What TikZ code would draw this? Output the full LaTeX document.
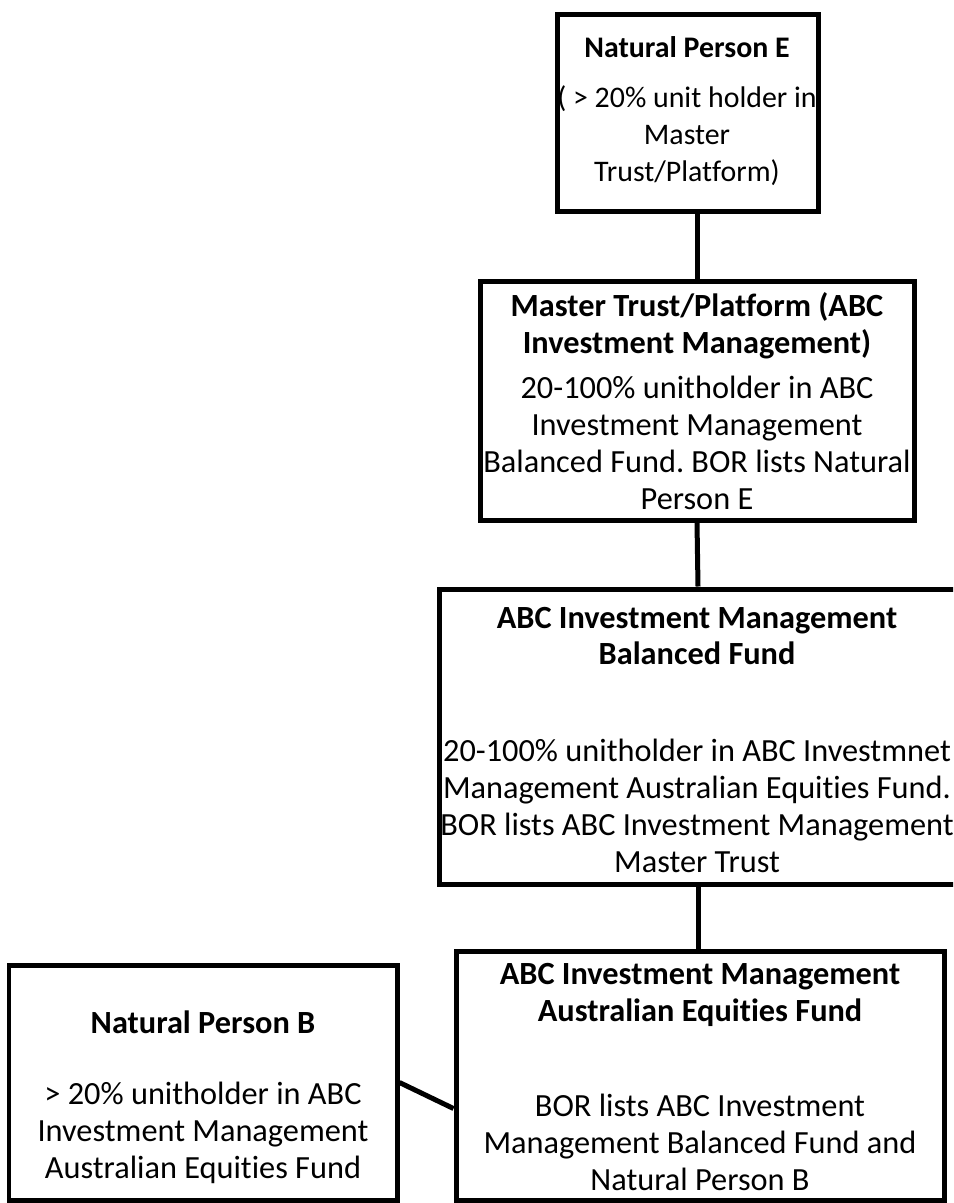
\documentclass[tikz,border=0pt]{standalone}
\usepackage{fontspec}
\setmainfont{Carlito}[Ligatures=NoCommon]
\usetikzlibrary{fit,calc}
\tikzset{
  box/.style={draw, line width=0.1cm, inner sep=0pt},
  lbl/.style={align=center, inner sep=0pt, font=\fontsize{18.4}{21}\selectfont},
  lblsmall/.style={lbl, font=\fontsize{17}{21}\selectfont},
  link/.style={line width=0.1cm}
}
\frenchspacing
\begin{document}
\begin{tikzpicture}[x=0.02cm, y=-0.02cm]
		%%%%% START %%%%%
		\useasboundingbox (0,0) rectangle (953,1203);
		\clip (0,0) rectangle (953,1203);
		
		% boxes
		\node[box, fit={(557,15) (818,211)}] (npe) {};
		\node[box, fit={(480,281) (914,520)}] (mt) {};
		\node[box, fit={(439,589) (957,884)}] (bal) {};
		\node[box, fit={(456,951) (944,1200)}] (aef) {};
		\node[box, fit={(9,965) (397,1200)}] (npb) {};
		
		% texts
		\node[lblsmall] (npe-t) at (687,47) {\textbf{Natural Person E}};
		\node[lblsmall] (npe-b) at (687,136) {( > 20\% unit holder in\\Master\\Trust/Platform)};
		
		\node[lbl] (mt-t) at (697,326) {\textbf{Master Trust/Platform (ABC}\\\textbf{Investment Management)}};
		\node[lbl] (mt-b) at (697,443) {20-100\% unitholder in ABC\\Investment Management\\Balanced Fund. BOR lists Natural\\Person E};
		
		\node[lbl] (bal-t) at (697,636) {\textbf{ABC Investment Management}\\\textbf{Balanced Fund}};
		\node[lbl] (bal-b) at (697,806) {20-100\% unitholder in ABC Investmnet\\Management Australian Equities Fund.\\BOR lists ABC Investment Management\\Master Trust};
		
		\node[lbl] (aef-t) at (700,995) {\textbf{ABC Investment Management}\\\textbf{Australian Equities Fund}};
		\node[lbl] (aef-b) at (700,1142) {BOR lists ABC Investment\\Management Balanced Fund and\\Natural Person B};
		
		\node[lbl] (npb-t) at (203,1022) {\textbf{Natural Person B}};
		\node[lbl] (npb-b) at (203,1133) {> 20\% unitholder in ABC\\Investment Management\\Australian Equities Fund};
		
		% links
		\draw[link] (mt.north |- npe.south) -- (mt.north);
		\draw[link] (mt.south) -- (bal.north);
		\draw[link] (bal.south) -- (bal.south |- aef.north);
		\draw[link] ($(npb.north east)!0.5!(npb.south east)$) -- ($(aef.north west)!0.63!(aef.south west)$);
		
		%%%%% END %%%%%
\end{tikzpicture}
\end{document}
